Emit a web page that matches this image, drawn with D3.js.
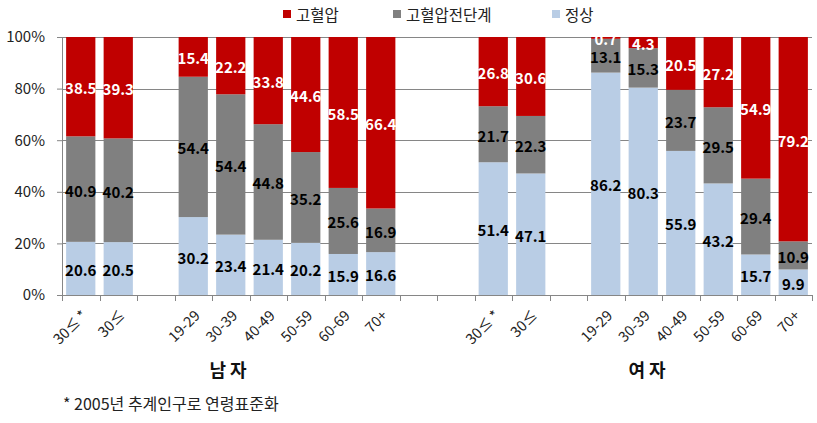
<!DOCTYPE html>
<html><head><meta charset="utf-8">
<script src="https://cdn.jsdelivr.net/npm/d3@7"></script>
<style>body{margin:0;background:#fff;}svg{display:block;font-family:"Noto Sans CJK KR","Noto Sans",sans-serif;}</style>
</head><body><svg id="c" width="817" height="423"></svg>
<script>
const slots = ["m30s*","m30s","g1","m19","m30","m40","m50","m60","m70","g2","g3","f30s*","f30s","g4","f19","f30","f40","f50","f60","f70"];
const categories = ["m30s*","m30s","m19","m30","m40","m50","m60","m70","f30s*","f30s","f19","f30","f40","f50","f60","f70"];
const tickLabels = ["30≤ *","30≤","19-29","30-39","40-49","50-59","60-69","70+","30≤ *","30≤","19-29","30-39","40-49","50-59","60-69","70+"];
const normal   = [20.6,20.5,30.2,23.4,21.4,20.2,15.9,16.6, 51.4,47.1,86.2,80.3,55.9,43.2,15.7,9.9];
const prehyp   = [40.9,40.2,54.4,54.4,44.8,35.2,25.6,16.9, 21.7,22.3,13.1,15.3,23.7,29.5,29.4,10.9];
const hyper    = [38.5,39.3,15.4,22.2,33.8,44.6,58.5,66.4, 26.8,30.6,0.7,4.3,20.5,27.2,54.9,79.2];
const seriesNames = ["정상","고혈압전단계","고혈압"];
const colors = ["#B9CDE5","#808080","#C00000"];
const labelColors = ["#000","#000","#fff"];
const yTicks = [0,0.2,0.4,0.6,0.8,1.0];
const groups = [{name:"남 자", x:228},{name:"여 자", x:647}];
const footnote = "* 2005년 추계인구로 연령표준화";

(function(){
const svg = d3.select("#c");
const pL=62, pR=812, pT=37, pB=295;
const x = d3.scaleBand().domain(slots).range([pL,pR]).paddingInner(0.22).paddingOuter(0.11);
const y = d3.scaleLinear().domain([0,1]).range([pB,pT]);

const rows = categories.map((c,i)=>({cat:c, s0:normal[i], s1:prehyp[i], s2:hyper[i]}));
const stack = d3.stack().keys(["s0","s1","s2"]).offset(d3.stackOffsetExpand);
const stacked = stack(rows);

svg.append("g").selectAll("line").data(yTicks.filter(d=>d>0)).join("line")
  .attr("x1",pL).attr("x2",pR).attr("y1",d=>Math.round(y(d))+0.5).attr("y2",d=>Math.round(y(d))+0.5)
  .attr("stroke","#868686").attr("stroke-width",1);

stacked.forEach((s,si)=>{
  svg.append("g").selectAll("rect").data(s).join("rect")
    .attr("x",d=>x(d.data.cat)).attr("width",x.bandwidth())
    .attr("y",d=>y(d[1])).attr("height",d=>y(d[0])-y(d[1]))
    .attr("fill",colors[si]);
});

const yAxis = d3.axisLeft(y).tickValues(yTicks).tickFormat(d=>Math.round(d*100)+"%").tickSize(5).tickPadding(12);
const ya = svg.append("g").attr("transform",`translate(${pL},0)`).call(yAxis);
ya.select(".domain").attr("stroke","#868686");
ya.selectAll(".tick line").attr("stroke","#868686");
ya.selectAll("text").attr("font-size",15).attr("fill","#222").attr("font-family","\"Noto Sans CJK KR\",sans-serif");

const bounds = d3.range(slots.length+1).map(k=>pL + k*(pR-pL)/slots.length);
const xa = svg.append("g");
xa.append("line").attr("x1",pL).attr("x2",pR).attr("y1",pB+0.5).attr("y2",pB+0.5).attr("stroke","#868686");
xa.selectAll("line.t").data(bounds).join("line").attr("class","t")
  .attr("x1",d=>Math.round(d)+0.5).attr("x2",d=>Math.round(d)+0.5).attr("y1",pB).attr("y2",pB+6).attr("stroke","#868686");
xa.selectAll("text").data(categories).join("text")
  .attr("transform",(d,i)=>`translate(${x(d)+x.bandwidth()/2+3},${pB+17}) rotate(-45)`)
  .attr("text-anchor","end").attr("dominant-baseline","central")
  .attr("font-size",14.5).attr("fill","#222")
  .text((d,i)=>tickLabels[i]);

svg.append("clipPath").attr("id","pc").append("rect").attr("x",pL).attr("y",pT).attr("width",pR-pL).attr("height",pB-pT);
const lg = svg.append("g").attr("clip-path","url(#pc)");
const raw = [normal,prehyp,hyper];
stacked.forEach((s,si)=>{
  lg.append("g").selectAll("text").data(s).join("text")
    .attr("x",d=>x(d.data.cat)+x.bandwidth()/2)
    .attr("y",d=>(y(d[0])+y(d[1]))/2+1)
    .attr("text-anchor","middle").attr("dominant-baseline","central")
    .attr("font-size",15).attr("font-weight","bold").attr("fill",labelColors[si])
    .text((d,i)=>raw[si][i].toFixed(1));
});

const legendItems = [{n:"고혈압",c:colors[2],x:283},{n:"고혈압전단계",c:colors[1],x:393},{n:"정상",c:colors[0],x:552}];
const leg = svg.append("g");
legendItems.forEach(it=>{
  leg.append("rect").attr("x",it.x).attr("y",10).attr("width",8).attr("height",8).attr("fill",it.c);
  leg.append("text").attr("x",it.x+13).attr("y",14).attr("dominant-baseline","central")
    .attr("font-size",15.5).attr("fill","#222").text(it.n);
});

svg.append("g").selectAll("text").data(groups).join("text")
  .attr("x",d=>d.x).attr("y",369).attr("text-anchor","middle").attr("dominant-baseline","central")
  .attr("font-size",18).attr("font-weight","bold").attr("fill","#111").text(d=>d.name);

svg.append("text").attr("x",63).attr("y",403).attr("dominant-baseline","central")
  .attr("font-size",16).attr("fill","#222").text(footnote);
})();
</script></body></html>
